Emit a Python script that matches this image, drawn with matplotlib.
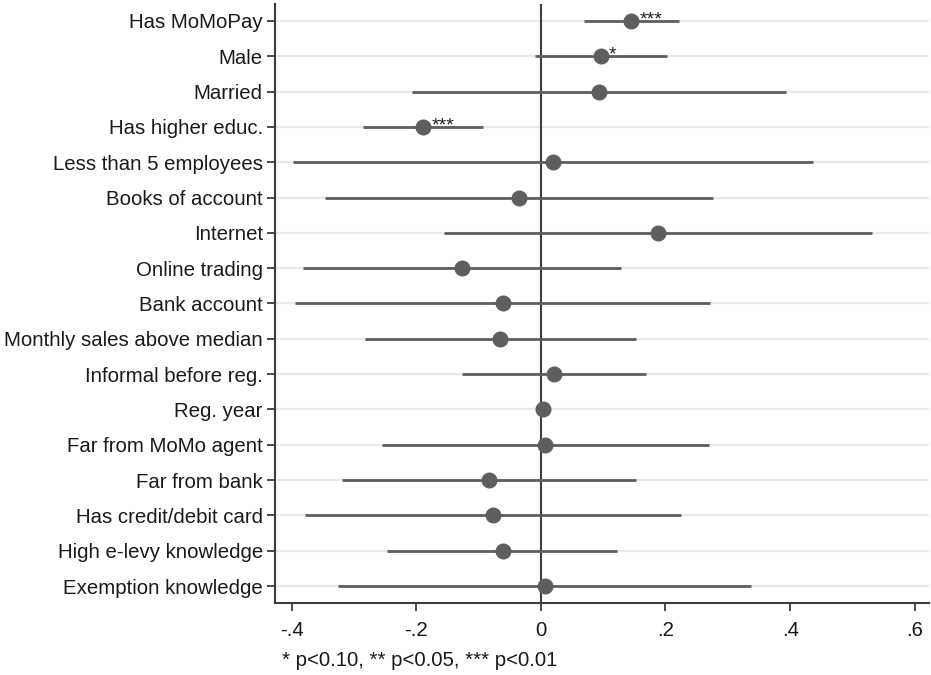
import numpy as np
import matplotlib.pyplot as plt

plt.rcParams['font.family'] = ['Liberation Sans', 'DejaVu Sans']

labels = ["Has MoMoPay", "Male", "Married", "Has higher educ.", "Less than 5 employees",
          "Books of account", "Internet", "Online trading", "Bank account",
          "Monthly sales above median", "Informal before reg.", "Reg. year",
          "Far from MoMo agent", "Far from bank", "Has credit/debit card",
          "High e-levy knowledge", "Exemption knowledge"]
coef = [0.145, 0.096, 0.094, -0.189, 0.019, -0.035, 0.188, -0.126, -0.061,
        -0.065, 0.021, 0.003, 0.006, -0.083, -0.077, -0.061, 0.007]
ci_lo = [0.069, -0.009, -0.206, -0.285, -0.397, -0.346, -0.155, -0.381, -0.395,
         -0.282, -0.126, -0.001, -0.255, -0.319, -0.378, -0.246, -0.326]
ci_hi = [0.222, 0.202, 0.394, -0.092, 0.436, 0.277, 0.531, 0.128, 0.272,
         0.152, 0.169, 0.008, 0.270, 0.153, 0.225, 0.122, 0.338]
stars = ["***", "*", "", "***", "", "", "", "", "", "", "", "", "", "", "", "", ""]
xticks = [-0.4, -0.2, 0, 0.2, 0.4, 0.6]
xticklabels = ["-.4", "-.2", "0", ".2", ".4", ".6"]

fig = plt.figure(figsize=(9.31, 6.75), dpi=100)
ax = fig.add_axes([0.2957, 0.1067, 0.7023, 0.8874])

y = np.arange(len(labels))
grey = "#5e5e5e"

for yy in y:
    ax.axhline(yy, color="#e9e9e9", lw=1.6, zorder=0)
ax.axvline(0, color="#3c3c3c", lw=1.5, zorder=1)

ax.hlines(y, ci_lo, ci_hi, color=grey, lw=2.0, zorder=2)
ax.plot(coef, y, 'o', color=grey, markersize=10.5, zorder=3)

for yy, c, s in zip(y, coef, stars):
    if s:
        ax.annotate(s, (c, yy), xytext=(6, 1), textcoords="offset points",
                    fontsize=14, va="center", ha="left", color="#222222")

ax.set_yticks(y)
ax.set_yticklabels(labels, fontsize=14.7, color="#1a1a1a")
ax.set_xticks(xticks)
ax.set_xticklabels(xticklabels, fontsize=14.7, color="#1a1a1a")
ax.set_xlim(-0.426, 0.623)
ax.set_ylim(16.48, -0.48)

for side in ["top", "right"]:
    ax.spines[side].set_visible(False)
for side in ["left", "bottom"]:
    ax.spines[side].set_color("#3c3c3c")
    ax.spines[side].set_linewidth(1.5)
ax.tick_params(axis="both", length=6, width=1.3, color="#3c3c3c")
ax.tick_params(axis="y", pad=3)
ax.tick_params(axis="x", pad=7)

fig.text(282 / 931, 1 - 660 / 675, "* p<0.10, ** p<0.05, *** p<0.01",
         fontsize=14.7, va="center", ha="left", color="#1a1a1a")

fig.savefig("out.png", dpi=100)
